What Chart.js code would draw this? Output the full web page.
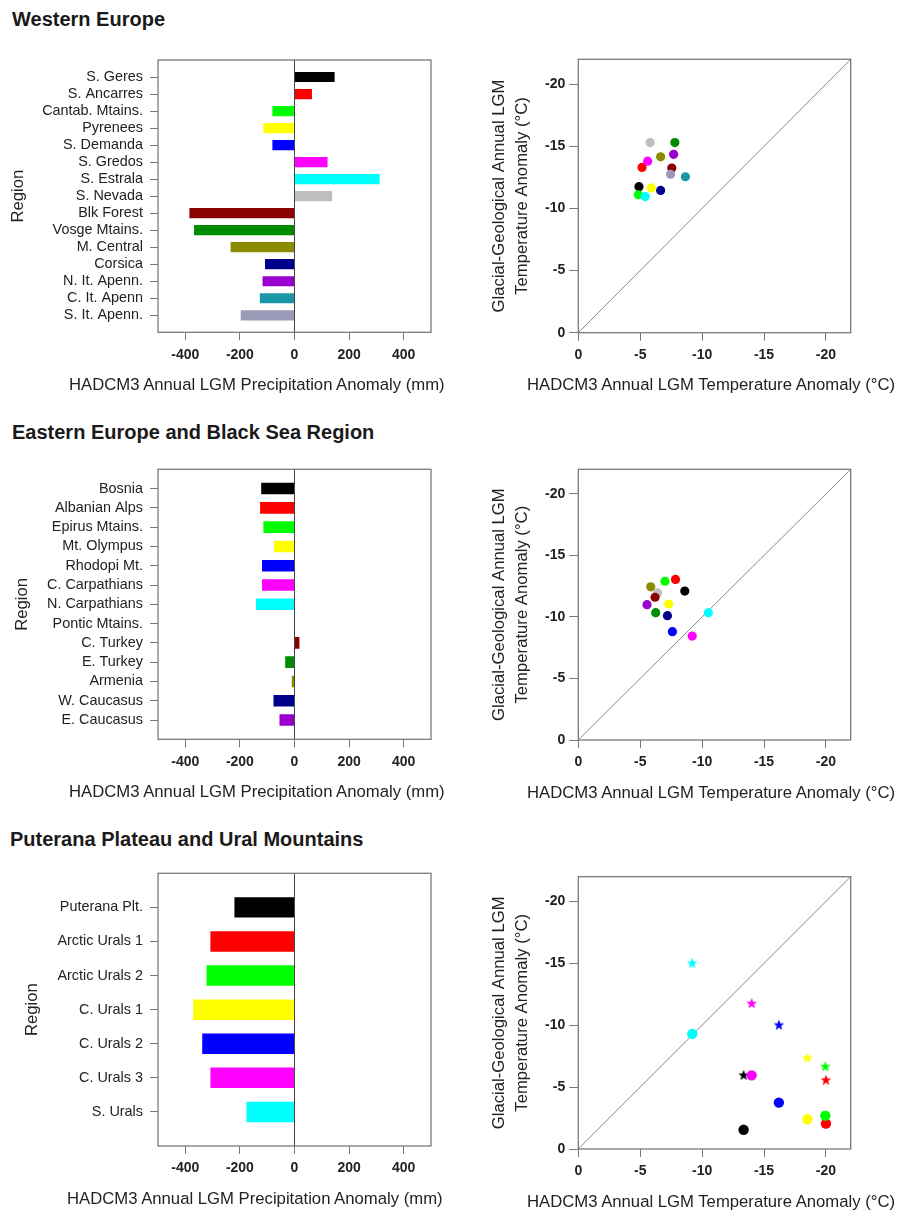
<!DOCTYPE html>
<html>
<head>
<meta charset="utf-8">
<title>HADCM3 LGM anomalies</title>
<script src="https://cdn.jsdelivr.net/npm/chart.js@4.4.1/dist/chart.umd.min.js"></script>
<style>
  body { margin: 0; background: #fff; }
  #page { position: relative; width: 904px; height: 1212px; overflow: hidden; font-family: "Liberation Sans", Arial, sans-serif; color: #1a1a1a; }
  #page canvas { position: absolute; }
  .head { position: absolute; font-size: 20px; line-height: 20px; font-weight: bold; white-space: nowrap; }
  .xt { position: absolute; font-size: 16.7px; line-height: 17px; white-space: nowrap; color: #222; }
</style>
</head>
<body>
<div id="page">
  <canvas id="barW"></canvas>
  <canvas id="sctW"></canvas>
  <canvas id="barE"></canvas>
  <canvas id="sctE"></canvas>
  <canvas id="barU"></canvas>
  <canvas id="sctU"></canvas>

  <div class="head" style="left:12px;top:9px">Western Europe</div>
  <div class="head" style="left:12px;top:422px">Eastern Europe and Black Sea Region</div>
  <div class="head" style="left:10px;top:829px">Puterana Plateau and Ural Mountains</div>

  <div class="xt" style="left:69px;top:376px">HADCM3 Annual LGM Precipitation Anomaly (mm)</div>
  <div class="xt" style="left:69px;top:783px">HADCM3 Annual LGM Precipitation Anomaly (mm)</div>
  <div class="xt" style="left:67px;top:1190px">HADCM3 Annual LGM Precipitation Anomaly (mm)</div>
  <div class="xt" style="left:527px;top:376px">HADCM3 Annual LGM Temperature Anomaly (°C)</div>
  <div class="xt" style="left:527px;top:784px">HADCM3 Annual LGM Temperature Anomaly (°C)</div>
  <div class="xt" style="left:527px;top:1193px">HADCM3 Annual LGM Temperature Anomaly (°C)</div>
</div>

<script>
// Western Europe
var W_REGIONS = ['S. Geres', 'S. Ancarres', 'Cantab. Mtains.', 'Pyrenees', 'S. Demanda', 'S. Gredos', 'S. Estrala', 'S. Nevada',
  'Blk Forest', 'Vosge Mtains.', 'M. Central', 'Corsica', 'N. It. Apenn.', 'C. It. Apenn', 'S. It. Apenn.'];
var W_PRECIP = [147, 64, -81, -114, -81, 121, 312, 138, -385, -368, -234, -108, -117, -127, -197];
var W_MODEL_T = [-4.9, -5.15, -4.85, -5.9, null, -5.6, -5.4, -5.8, -7.55, -7.8, -6.65, -6.65, -7.7, -8.65, -7.45];
var W_GEO_T = [-11.75, -13.3, -11.1, -11.65, null, -13.8, -10.95, -15.3, -13.25, -15.3, -14.15, -11.45, -14.35, -12.55, -12.75];

// Eastern Europe and Black Sea
var E_REGIONS = ['Bosnia', 'Albanian Alps', 'Epirus Mtains.', 'Mt. Olympus', 'Rhodopi Mt.', 'C. Carpathians', 'N. Carpathians',
  'Pontic Mtains.', 'C. Turkey', 'E. Turkey', 'Armenia', 'W. Caucasus', 'E. Caucasus'];
var E_PRECIP = [-122, -126, -114, -75, -119, -119, -141, null, 18, -34, -10, -77, -55];
var E_MODEL_T = [-8.6, -7.85, -7.0, -7.3, -7.6, -9.2, -10.5, -6.4, -6.2, -6.25, -5.85, -7.2, -5.55];
var E_GEO_T = [-12.1, -13.05, -12.9, -11.05, -8.8, -8.45, -10.35, -11.95, -11.6, -10.35, -12.45, -10.1, -11.0];

// Puterana Plateau and Urals (circles + stars)
var U_REGIONS = ['Puterana Plt.', 'Arctic Urals 1', 'Arctic Urals 2', 'C. Urals 1', 'C. Urals 2', 'C. Urals 3', 'S. Urals'];
var U_PRECIP = [-220, -308, -322, -371, -338, -308, -176];
var U_MODEL_T = [-13.35, -20.0, -19.95, -18.5, -16.2, -14.0, -9.2];
var U_GEO_T = [-1.55, -2.05, -2.7, -2.4, -3.75, -5.95, -9.3];
var U_GEO_T_STAR = [-6.0, -5.6, -6.7, -7.4, -10.05, -11.8, -15.05];

var PALETTE = ['#000000', '#ff0000', '#00ff00', '#ffff00', '#0000ff', '#ff00ff', '#00ffff', '#bebebe',
  '#8b0000', '#008b00', '#8b8b00', '#00008b', '#9a00cd', '#1a96a6', '#9a9ab8'];
var PRECIP_TICKS = [-400, -200, 0, 200, 400];
var TEMP_TICKS = [0, -5, -10, -15, -20];

Chart.defaults.font.family = '"Liberation Sans", Arial, sans-serif';
Chart.defaults.color = '#222';

var NUM_FONT = {size: 14, weight: 'bold'};
var LABEL_FONT = {size: 14.4};
var TICK_COL = '#777';

// cadre autour de la zone du graphique
var frame = {
  id: 'frame',
  afterDatasetsDraw: function (chart) {
    var a = chart.chartArea, c = chart.ctx;
    c.save();
    c.strokeStyle = '#7a7a7a';
    c.lineWidth = 1.3;
    c.strokeRect(a.left, a.top, a.right - a.left, a.bottom - a.top);
    c.restore();
  }
};

// place le canvas et calcule marges pour que la zone tracée tombe sur box
function setup(id, g) {
  var cv = document.getElementById(id);
  cv.width = g.width;
  cv.height = g.height;
  cv.style.left = g.left + 'px';
  cv.style.top = g.top + 'px';
  return {
    ctx: cv.getContext('2d'),
    padding: {left: 0, top: g.box[1] - g.top, right: g.left + g.width - g.box[2], bottom: 0},
    yW: g.box[0] - g.left,
    xH: g.top + g.height - g.box[3]
  };
}

function starImage(color, r) {
  var s = Math.ceil(r * 2) + 2;
  var c = document.createElement('canvas');
  c.width = s; c.height = s;
  var g = c.getContext('2d');
  g.fillStyle = color;
  g.beginPath();
  for (var k = 0; k < 10; k++) {
    var rad = k % 2 ? r * 0.42 : r;
    var a = -Math.PI / 2 + k * Math.PI / 5;
    g.lineTo(s / 2 + rad * Math.cos(a), s / 2 + 0.6 + rad * Math.sin(a));
  }
  g.closePath();
  g.fill();
  return c;
}

function barChart(id, regions, values, g) {
  var s = setup(id, g);
  new Chart(s.ctx, {
    type: 'bar',
    data: {
      datasets: [{
        data: regions.map(function (r, i) { return {x: values[i], y: i}; }),
        backgroundColor: PALETTE.slice(0, regions.length),
        borderWidth: 0,
        categoryPercentage: 1,
        barPercentage: 0.6
      }]
    },
    options: {
      indexAxis: 'y',
      responsive: false,
      animation: false,
      layout: {padding: s.padding},
      plugins: {legend: {display: false}, tooltip: {enabled: false}},
      scales: {
        x: {
          type: 'linear', min: -500, max: 500, bounds: 'data',
          afterBuildTicks: function (sc) { sc.ticks = PRECIP_TICKS.map(function (v) { return {value: v}; }); },
          afterFit: function (sc) { sc.height = s.xH; },
          border: {display: false},
          grid: {
            color: function (c) { return c.tick && c.tick.value === 0 ? '#444' : 'rgba(0,0,0,0)'; },
            tickColor: TICK_COL, tickLength: 8, lineWidth: 1
          },
          ticks: {font: NUM_FONT, padding: 6, maxRotation: 0, autoSkip: false}
        },
        y: {
          type: 'linear', min: -1, max: regions.length, reverse: true, bounds: 'data', offset: false,
          afterBuildTicks: function (sc) { sc.ticks = regions.map(function (r, i) { return {value: i}; }); },
          afterFit: function (sc) { sc.width = s.yW; },
          border: {display: false},
          grid: {drawOnChartArea: false, offset: false, tickColor: TICK_COL, tickLength: 8},
          ticks: {
            font: LABEL_FONT, padding: 7, autoSkip: false,
            callback: function (v) { return regions[v]; }
          },
          title: {display: true, text: 'Region', font: {size: 16.7}, padding: {top: g.titlePad, bottom: 0}}
        }
      }
    },
    plugins: [frame]
  });
}

function scatterChart(id, modelT, sets, g) {
  var s = setup(id, g);
  var datasets = sets.map(function (d) {
    return {
      data: modelT.map(function (x, i) { return {x: x, y: d.values[i]}; }),
      pointBackgroundColor: PALETTE.slice(0, modelT.length),
      pointStyle: d.style,
      pointRadius: d.radius,
      pointHoverRadius: d.radius,
      pointBorderWidth: 0
    };
  });
  // diagonale 1:1
  datasets.push({
    type: 'line',
    data: [{x: 0, y: 0}, {x: -22, y: -22}],
    borderColor: '#8a8a8a',
    borderWidth: 1,
    pointRadius: 0
  });
  new Chart(s.ctx, {
    type: 'scatter',
    data: {datasets: datasets},
    options: {
      responsive: false,
      animation: false,
      layout: {padding: s.padding},
      plugins: {legend: {display: false}, tooltip: {enabled: false}},
      scales: {
        x: {
          type: 'linear', min: -22, max: 0, reverse: true, bounds: 'data',
          afterBuildTicks: function (sc) { sc.ticks = TEMP_TICKS.map(function (v) { return {value: v}; }); },
          afterFit: function (sc) { sc.height = s.xH; },
          border: {display: false},
          grid: {drawOnChartArea: false, tickColor: TICK_COL, tickLength: 8},
          ticks: {font: NUM_FONT, padding: 6, maxRotation: 0, autoSkip: false, callback: function (v) { return String(v); }}
        },
        y: {
          type: 'linear', min: -22, max: 0, reverse: true, bounds: 'data',
          afterBuildTicks: function (sc) { sc.ticks = TEMP_TICKS.map(function (v) { return {value: v}; }); },
          afterFit: function (sc) { sc.width = s.yW; },
          border: {display: false},
          grid: {drawOnChartArea: false, tickColor: TICK_COL, tickLength: 9},
          ticks: {font: NUM_FONT, padding: 4, autoSkip: false, callback: function (v) { return String(v); }},
          title: {
            display: true,
            text: ['Glacial-Geological Annual LGM', 'Temperature Anomaly (°C)'],
            font: {size: 16.7, lineHeight: 1.377},
            padding: {top: 17.5, bottom: 0}
          }
        }
      }
    },
    plugins: [frame]
  });
}

// graphiques en barres
barChart('barW', W_REGIONS, W_PRECIP, {left: 0, top: 40, width: 450, height: 340, box: [158, 60, 431, 332.3], titlePad: 8.3});
barChart('barE', E_REGIONS, E_PRECIP, {left: 0, top: 449, width: 450, height: 340, box: [158, 469.3, 431, 739.3], titlePad: 12.5});
barChart('barU', U_REGIONS, U_PRECIP, {left: 0, top: 853, width: 450, height: 345, box: [158, 873.3, 431, 1146], titlePad: 22});

// nuages de points
scatterChart('sctW', W_MODEL_T, [{values: W_GEO_T, style: 'circle', radius: 4.6}],
  {left: 470, top: 40, width: 434, height: 340, box: [578.3, 59.3, 850.7, 332.7]});
scatterChart('sctE', E_MODEL_T, [{values: E_GEO_T, style: 'circle', radius: 4.6}],
  {left: 470, top: 449, width: 434, height: 340, box: [578.3, 469.3, 850.7, 740]});
scatterChart('sctU', U_MODEL_T, [
  {values: U_GEO_T, style: 'circle', radius: 5.2},
  {values: U_GEO_T_STAR, style: PALETTE.slice(0, U_REGIONS.length).map(function (c) { return starImage(c, 5.6); }), radius: 5.6}
], {left: 470, top: 856, width: 434, height: 340, box: [578.3, 876.7, 850.7, 1149]});
</script>
</body>
</html>
